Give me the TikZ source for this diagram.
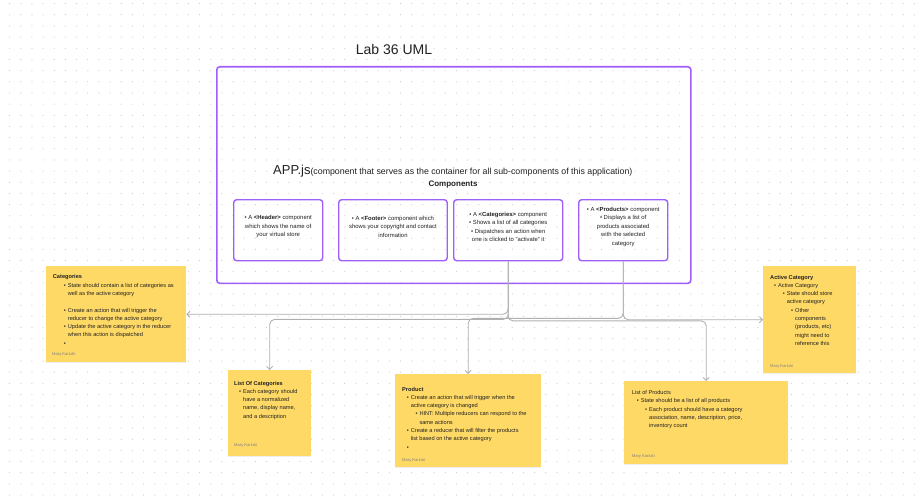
\documentclass[tikz,border=0pt]{standalone}
\usepackage{fontspec}
\setmainfont{Liberation Sans}
\usetikzlibrary{positioning}
\usetikzlibrary{calc}
\usetikzlibrary{arrows.meta}
\usetikzlibrary{shadows}
\definecolor{uipurple}{RGB}{160,95,250}
\definecolor{noteyellow}{RGB}{255,217,102}
\definecolor{wirec}{RGB}{176,176,176}
\definecolor{griddot}{RGB}{205,205,205}
\definecolor{ink}{RGB}{34,34,34}
\newcommand{\bul}{\makebox[0pt][r]{\textbullet\hspace{2pt}}}
\newcommand{\indt}[1]{\hspace*{#1pt}}

\begin{document}
\begin{tikzpicture}[
    x=1pt, y=-1pt,
    frame/.style={draw=uipurple, line width=1.6pt, rounded corners=3pt, anchor=north west, inner sep=0pt},
    compbox/.style={draw=uipurple, line width=1.4pt, rounded corners=3pt, anchor=north west, inner sep=0pt, minimum height=61pt, minimum width=#1},
    sticky/.style={fill=noteyellow, anchor=north west, inner sep=0pt, drop shadow={shadow xshift=0pt, shadow yshift=-1pt, opacity=0.12}},
    notetext/.style={anchor=north west, align=left, inner sep=0pt, text=ink, font=\fontsize{5.65}{8.3}\selectfont},
    boxtext/.style={align=center, inner sep=0pt, text=ink, font=\fontsize{5.9}{8.4}\selectfont},
    author/.style={anchor=west, inner sep=0pt, text=gray, font=\fontsize{4.1}{4.5}\selectfont},
    wire/.style={draw=wirec, line width=0.9pt, rounded corners=5pt, -{Straight Barb[length=3pt,width=6pt]}}
]
    \useasboundingbox (0,0) rectangle (915,495);
    \fill[white] (0,0) rectangle (915,495);
    \foreach \i in {0,...,81} {
        \foreach \j in {0,...,44} {
            \fill[griddot] (9.6+11.17*\i, 3.6+11.17*\j) circle (0.6pt);
        }
    }

    % App container
    \node[font=\fontsize{14}{16}\selectfont, text=ink] (title) at (394,49) {Lab 36 UML};
    \node[frame, minimum width=474pt, minimum height=216.5pt] (app) at (216,66) {};
    \node[anchor=base west, inner sep=0pt, text=ink] (applabel) at (273,174)
        {{\fontsize{13}{15}\selectfont APP.js}{\fontsize{8.8}{10}\selectfont(component that serves as the container for all sub-components of this application)}};
    \node[font=\bfseries\fontsize{8}{9}\selectfont, text=ink] (complabel) at (453,185) {Components};

    \node[compbox=89pt] (header) at (233,199) {};
    \node[compbox=108.5pt] (footer) at (338,199) {};
    \node[compbox=109pt] (cats) at (453,199) {};
    \node[compbox=89pt] (prods) at (578,199) {};

    \node[boxtext] at ([yshift=3.5pt]header.center)
        {\textbullet\ A \textbf{<Header>} component\\ which shows the name of\\ your virtual store};
    \node[boxtext] at ([yshift=3.5pt]footer.center)
        {\textbullet\ A \textbf{<Footer>} component which\\ shows your copyright and contact\\ information};
    \node[boxtext] at ([yshift=3.5pt]cats.center)
        {\textbullet\ A \textbf{<Categories>} component\\ \textbullet\ Shows a list of all categories\\ \textbullet\ Dispatches an action when\\ one is clicked to "activate" it};
    \node[boxtext] at ([yshift=3.5pt]prods.center)
        {\textbullet\ A \textbf{<Products>} component\\ \textbullet\ Displays a list of\\ products associated\\ with the selected\\ category};

    % Sticky notes
    \node[sticky, minimum width=140pt, minimum height=96pt] (catnote) at (46,266) {};
    \node[notetext] at ([shift={(6.7,8.6)}]catnote.north west) {\textbf{Categories}\\
        \indt{15}\bul State should contain a list of categories as\\
        \indt{15}well as the active category\\[8.3pt]
        \indt{15}\bul Create an action that will trigger the\\
        \indt{15}reducer to change the active category\\
        \indt{15}\bul Update the active category in the reducer\\
        \indt{15}when this action is dispatched\\
        \indt{15}\bul};
    \node[author] at ([shift={(6,-8.3)}]catnote.south west) {Mary Kariuki};

    \node[sticky, minimum width=93pt, minimum height=107pt] (activenote) at (763,266) {};
    \node[notetext] at ([shift={(7,8.8)}]activenote.north west) {\textbf{Active Category}\\
        \indt{8}\bul Active Category\\
        \indt{16.7}\bul State should store\\
        \indt{16.7}active category\\
        \indt{25}\bul Other\\
        \indt{25}components\\
        \indt{25}(products, etc)\\
        \indt{25}might need to\\
        \indt{25}reference this};
    \node[author] at ([shift={(7,-7)}]activenote.south west) {Mary Kariuki};

    \node[sticky, minimum width=83pt, minimum height=86pt] (listcat) at (228,370) {};
    \node[notetext] at ([shift={(6,10.8)}]listcat.north west) {\textbf{List Of Categories}\\
        \indt{9}\bul Each category should\\
        \indt{9}have a normalized\\
        \indt{9}name, display name,\\
        \indt{9}and a description};
    \node[author] at ([shift={(6,-11)}]listcat.south west) {Mary Kariuki};

    \node[sticky, minimum width=146pt, minimum height=93pt] (product) at (395,374) {};
    \node[notetext] at ([shift={(7,12.8)}]product.north west) {\textbf{Product}\\
        \indt{8.7}\bul Create an action that will trigger when the\\
        \indt{8.7}active category is changed\\
        \indt{17.3}\bul HINT: Multiple reducers can respond to the\\
        \indt{17.3}same actions\\
        \indt{8.7}\bul Create a reducer that will filter the products\\
        \indt{8.7}list based on the active category\\
        \indt{8.7}\bul};
    \node[author] at ([shift={(7,-7)}]product.south west) {Mary Kariuki};

    \node[sticky, minimum width=164pt, minimum height=83pt] (listprod) at (624,381) {};
    \node[notetext] at ([shift={(7.7,9.2)}]listprod.north west) {List of Products\\
        \indt{9}\bul State should be a list of all products\\
        \indt{17.3}\bul Each product should have a category\\
        \indt{17.3}association, name, description, price,\\
        \indt{17.3}inventory count};
    \node[author] at ([shift={(7.7,-8.3)}]listprod.south west) {Mary Kariuki};

    % Connectors
    \draw[wire] (cats.south) |- (catnote.east);
    \draw[wire] (cats.south) -- ++(0,58) -| (listcat.north);
    \draw[wire] (cats.south) -- ++(0,59.5) -| (listprod.north);
    \draw[wire] (prods.south) -- ++(0,57) -| (product.north);
    \draw[wire] (prods.south) |- (activenote.west);
\end{tikzpicture}
\end{document}
